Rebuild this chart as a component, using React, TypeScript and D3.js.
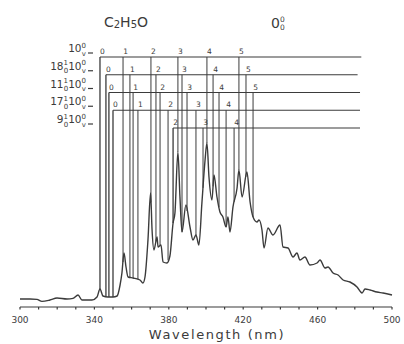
import React from 'react';
import * as d3 from 'd3';

// Emission spectrum (nm, arbitrary intensity)
const wavelength = [
  300.0, 305.4, 309.1, 311.8, 316.1, 319.9, 325.3, 328.5, 331.2, 333.3, 338.7, 341.4, 343.0, 344.6,
  347.3, 350.0, 352.2, 353.8, 354.8, 355.9, 357.0, 358.1, 360.8, 364.5, 366.1, 367.2, 368.8, 370.2,
  371.0, 372.0, 373.7, 374.2, 375.8, 376.9, 379.0, 380.6, 382.3, 383.3, 384.9, 386.0, 387.1, 389.2,
  391.4, 393.0, 394.6, 396.2, 397.8, 399.5, 400.5, 401.6, 403.2, 404.3, 405.9, 407.5, 409.1, 410.8,
  411.8, 412.9, 414.5, 416.7, 417.7, 419.4, 422.0, 423.7, 425.3, 427.4, 428.5, 430.1, 431.2, 433.3,
  436.0, 439.8, 441.4, 444.1, 446.8, 448.9, 450.5, 453.2, 455.9, 459.7, 461.3, 464.0, 465.6, 468.3,
  471.0, 473.7, 477.4, 481.2, 483.9, 485.5, 488.2, 491.9, 495.2, 500.0,
];
const intensity = [
  4.0, 4.0, 3.8, 2.8, 3.5, 4.5, 4.0, 4.3, 6.0, 3.5, 3.5, 5.0, 9.0, 5.5,
  5.0, 5.0, 5.5, 11.0, 17.0, 27.0, 20.0, 15.0, 14.5, 13.5, 12.0, 15.0, 33.5, 57.0,
  38.5, 28.5, 35.0, 30.0, 31.0, 22.5, 22.0, 25.5, 42.0, 47.0, 77.5, 55.0, 37.5, 51.0,
  40.0, 33.5, 36.0, 31.0, 52.0, 73.5, 82.0, 65.0, 53.5, 66.0, 55.0, 47.5, 45.0, 40.0,
  45.0, 37.5, 50.0, 59.5, 68.5, 55.0, 67.5, 52.5, 45.0, 42.5, 43.5, 38.5, 29.5, 39.5,
  36.0, 41.0, 30.0, 29.5, 25.0, 27.0, 23.5, 25.0, 21.0, 22.0, 23.5, 19.5, 20.0, 17.0,
  16.0, 13.5, 12.5, 10.0, 7.0, 9.0, 8.5, 7.5, 7.0, 6.0,
];

// Vibronic progressions: label parts, band numbers, band positions (nm)
const progressionLabels = [
  [{ base: '10', sup: '0', sub: 'v' }],
  [{ base: '18', sup: '1', sub: '0' }, { base: '10', sup: '0', sub: 'v' }],
  [{ base: '11', sup: '1', sub: '0' }, { base: '10', sup: '0', sub: 'v' }],
  [{ base: '17', sup: '1', sub: '0' }, { base: '10', sup: '0', sub: 'v' }],
  [{ base: '9', sup: '1', sub: '0' }, { base: '10', sup: '0', sub: 'v' }],
];
const bandNumbers = [
  [0, 1, 2, 3, 4, 5],
  [0, 1, 2, 3, 4, 5],
  [0, 1, 2, 3, 4, 5],
  [0, 1, 2, 3, 4],
  [2, 3, 4],
];
const bandWavelengths = [
  [343.0, 355.4, 370.4, 384.9, 400.5, 417.7],
  [346.2, 359.1, 373.1, 387.1, 403.8, 421.5],
  [347.8, 360.8, 375.3, 389.8, 407.0, 425.3],
  [350.0, 363.4, 379.6, 394.6, 410.8],
  [382.3, 398.4, 415.1],
];
const progressionEnd = [483.5, 481.5, 482.8, 482.8, 482.8];

const tickLabels = [300, 340, 380, 420, 460, 500];
const minorTicks = d3.range(300, 501, 10);

const W = 404;
const H = 344;
const ink = '#3b3b3b';
const font = '"DejaVu Sans", sans-serif';

const App: React.FC = () => {
  const x = d3.scaleLinear().domain([300, 500]).range([20, 392]);
  const y = d3.scaleLinear().domain([0, 100]).range([307, 107]);
  const rowY = (i: number) => 57 + i * 17.75;

  const pts = wavelength.map((w, i) => [w, intensity[i]] as [number, number]);
  const line = d3
    .line<[number, number]>()
    .x(d => x(d[0]))
    .y(d => y(d[1]))
    .curve(d3.curveMonotoneX);

  const valueAt = (w: number) => {
    const i = Math.max(1, d3.bisectLeft(wavelength, w));
    const t = (w - wavelength[i - 1]) / (wavelength[i] - wavelength[i - 1]);
    return intensity[i - 1] + t * (intensity[i] - intensity[i - 1]);
  };

  const renderLabel = (parts: { base: string; sup: string; sub: string }[]) => {
    const out: JSX.Element[] = [];
    parts.forEach((p, k) => {
      out.push(<tspan key={k + 'b'} dy={k === 0 ? 0 : -3.5}>{p.base}</tspan>);
      out.push(<tspan key={k + 'p'} fontSize={7} dy={-4.5}>{p.sup}</tspan>);
      out.push(<tspan key={k + 's'} fontSize={7} dx={-4.3} dy={8}>{p.sub}</tspan>);
    });
    return out;
  };

  return (
    <svg width={W} height={H} style={{ position: 'absolute', left: 0, top: 0, background: '#fff' }}>
      {/* headers */}
      <text x={126} y={27} textAnchor="middle" fontFamily={font} fontSize={14} fill={ink}>
        C<tspan fontSize={10} dy={1}>2</tspan>
        <tspan dy={-1}>H</tspan>
        <tspan fontSize={10} dy={1}>5</tspan>
        <tspan dy={-1}>O</tspan>
      </text>
      <text x={278} y={28} textAnchor="middle" fontFamily={font} fontSize={14} fill={ink}>
        0<tspan fontSize={7.5} dy={-6.5}>0</tspan>
        <tspan fontSize={7.5} dx={-4.7} dy={8.5}>0</tspan>
      </text>

      {/* progressions */}
      {progressionLabels.map((parts, r) => {
        const yy = rowY(r);
        const ws = bandWavelengths[r];
        return (
          <g key={r}>
            <text x={86} y={yy - 5} textAnchor="end" fontFamily={font} fontSize={10.5} fill={ink}>
              {renderLabel(parts)}
            </text>
            <line x1={88} x2={93} y1={yy - 4} y2={yy - 4} stroke={ink} strokeWidth={1.2} />
            <line x1={x(ws[0])} x2={x(progressionEnd[r])} y1={yy} y2={yy} stroke={ink} strokeWidth={1.1} />
            {ws.map((w, j) => (
              <g key={j}>
                <line
                  x1={x(w)}
                  x2={x(w)}
                  y1={yy}
                  y2={y(valueAt(w))}
                  stroke={ink}
                  strokeWidth={j === 0 ? 1.3 : 1}
                />
                <text
                  x={x(w) + 2.5}
                  y={yy - 3}
                  textAnchor="middle"
                  fontFamily={font}
                  fontSize={7.5}
                  fill={ink}
                >
                  {bandNumbers[r][j]}
                </text>
              </g>
            ))}
          </g>
        );
      })}

      {/* spectrum */}
      <path d={line(pts) || ''} fill="none" stroke={ink} strokeWidth={1.4} strokeLinejoin="round" />

      {/* x axis */}
      <line x1={x(300)} x2={x(500)} y1={307} y2={307} stroke={ink} strokeWidth={1.2} />
      {minorTicks.map(t => (
        <line key={t} x1={x(t)} x2={x(t)} y1={307} y2={309.5} stroke={ink} strokeWidth={1.2} />
      ))}
      {tickLabels.map(t => (
        <text key={t} x={x(t)} y={323} textAnchor="middle" fontFamily={font} fontSize={9} fill={ink}>
          {t}
        </text>
      ))}
      <text x={217} y={339} textAnchor="middle" fontFamily={font} fontSize={13} letterSpacing={1.6} fill={ink}>
        Wavelength (nm)
      </text>
    </svg>
  );
};

export default App;
